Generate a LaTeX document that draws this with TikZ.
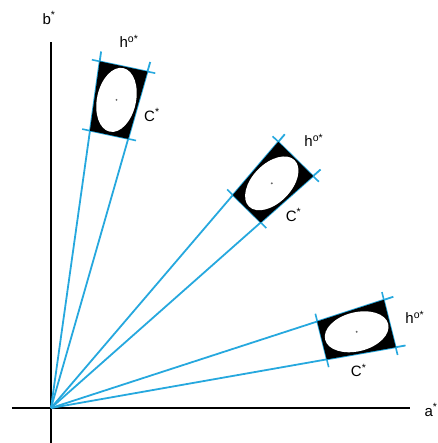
\documentclass[tikz,border=0pt]{standalone}
\usepackage{fontspec}
\setmainfont{Liberation Sans}
\usepackage{xcolor}
\usetikzlibrary{calc}
\definecolor{tolcyan}{RGB}{38,168,222}

\begin{document}
\begin{tikzpicture}[x=1pt, y=1pt,
  axis/.style={line width=2.6pt, black},
  ray/.style={line width=1.8pt, tolcyan},
  tick/.style={line width=1.6pt, tolcyan},
  lbl/.style={font=\fontsize{15}{17}\selectfont, inner sep=0pt}
]
\useasboundingbox (-51,-35) rectangle (386,408);

% axes
\coordinate (O) at (0,0);
\coordinate (xl) at (-39,0);
\coordinate (xr) at (359,0);
\coordinate (yb) at (0,-35);
\coordinate (yt) at (0,366);
\draw[axis] (xl) -- (xr);
\draw[axis] (yb) -- (yt);
\node[lbl] (bstar) at (-2,390) {b\textsuperscript{*}};
\node[lbl] (astar) at (380,-2) {a\textsuperscript{*}};

% tolerance boxes
\foreach \t/\n in {78/1, 45.5/2, 14/3} {
  \coordinate (c\n) at (\t:315);
  \coordinate (il\n) at ({\t+4}:280);
  \coordinate (ir\n) at ({\t-4}:280);
  \coordinate (ol\n) at ({\t+4}:350);
  \coordinate (or\n) at ({\t-4}:350);
  \coordinate (el\n) at ({\t+4}:360);
  \coordinate (er\n) at ({\t-4}:360);
  \draw[ray] (O) -- (el\n);
  \draw[ray] (O) -- (er\n);
  \draw[tick] ($(il\n)!-8pt!(ir\n)$) -- ($(ir\n)!-8pt!(il\n)$);
  \draw[tick] ($(ol\n)!-8pt!(or\n)$) -- ($(or\n)!-8pt!(ol\n)$);
  \fill[black] (il\n) -- (ol\n) -- (or\n) -- (ir\n) -- cycle;
  \fill[white, rotate around={\t:(c\n)}] (c\n) ellipse [x radius=32.5, y radius=19.5];
  \fill[black!60] (c\n) circle (1.1pt);
  \node[lbl] (h\n) at (\t:375) {h\textsuperscript{o*}};
  \node[lbl] (C\n) at ({\t-7}:310) {C\textsuperscript{*}};
}

\end{tikzpicture}
\end{document}
